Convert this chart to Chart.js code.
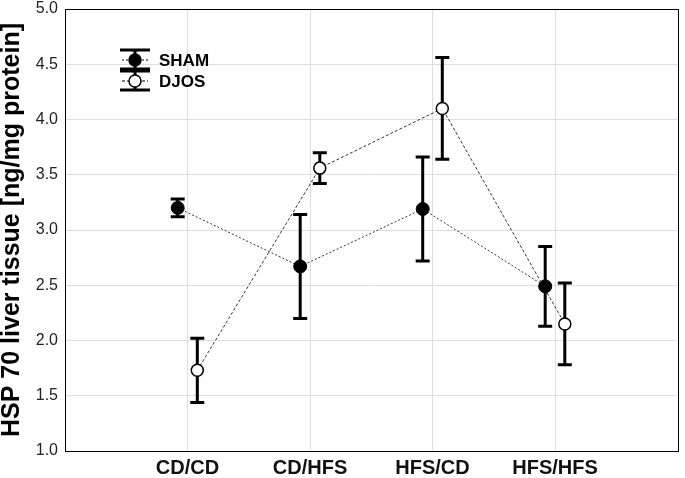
<!DOCTYPE html>
<html>
<head>
<meta charset="utf-8">
<script src="https://cdn.jsdelivr.net/npm/chart.js@4"></script>
<style>
  html, body { margin: 0; padding: 0; background: #fff; }
  #wrap { width: 685px; height: 478px; }
</style>
</head>
<body>
<div id="wrap"><canvas id="hspChart"></canvas></div>
<script>
// Data
const categories = ['CD/CD', 'CD/HFS', 'HFS/CD', 'HFS/HFS'];
const shamMean = [3.20, 2.67, 3.19, 2.49];
const shamErr = [0.08, 0.47, 0.47, 0.36];
const djosMean = [1.73, 3.56, 4.10, 2.15];
const djosErr = [0.29, 0.14, 0.46, 0.37];
const yTicks = [1.0, 1.5, 2.0, 2.5, 3.0, 3.5, 4.0, 4.5, 5.0];

const groupOffset = 0.08;
const FONT = '"Liberation Sans", Arial, sans-serif';

function toPoints(means, errs, shift) {
    return means.map((m, i) => ({ x: i + 1 + shift, y: m, err: errs[i] }));
}

function noPadding(scale) {
    scale.paddingLeft = 0;
    scale.paddingRight = 0;
    scale.paddingTop = 0;
    scale.paddingBottom = 0;
}

// Error bars, drawn under the markers
const errorBars = {
    id: 'errorBars',
    beforeDatasetsDraw(chart) {
        const ctx = chart.ctx;
        const yScale = chart.scales.y;
        const xScale = chart.scales.x;
        ctx.save();
        ctx.strokeStyle = '#000';
        ctx.lineWidth = 3;
        chart.data.datasets.forEach(ds => {
            ds.data.forEach(p => {
                const x = xScale.getPixelForValue(p.x);
                const top = yScale.getPixelForValue(p.y + p.err);
                const bot = yScale.getPixelForValue(p.y - p.err);
                ctx.beginPath();
                ctx.moveTo(x, top); ctx.lineTo(x, bot);
                ctx.moveTo(x - 7, top); ctx.lineTo(x + 7, top);
                ctx.moveTo(x - 7, bot); ctx.lineTo(x + 7, bot);
                ctx.stroke();
            });
        });
        ctx.restore();
    },
    afterDraw(chart) {
        // frame round the plot
        const a = chart.chartArea;
        const ctx = chart.ctx;
        ctx.save();
        ctx.strokeStyle = '#000';
        ctx.lineWidth = 1;
        ctx.strokeRect(Math.round(a.left) + 0.5, Math.round(a.top) + 0.5,
            Math.round(a.right - a.left), Math.round(a.bottom - a.top));
        ctx.restore();
    }
};

// Legend with error bar symbols, top left inside the plot
const boxLegend = {
    id: 'boxLegend',
    afterDraw(chart) {
        const ctx = chart.ctx;
        const cx = 135;
        const rows = [
            { label: 'SHAM', y: 60, fill: '#000', dash: [2, 2] },
            { label: 'DJOS', y: 81, fill: '#fff', dash: [3, 2] }
        ];
        ctx.save();
        rows.forEach(r => {
            ctx.strokeStyle = '#000';
            ctx.lineWidth = 1;
            ctx.setLineDash(r.dash);
            ctx.beginPath();
            ctx.moveTo(cx - 13, r.y); ctx.lineTo(cx + 13, r.y);
            ctx.stroke();
            ctx.setLineDash([]);
            ctx.lineWidth = 3;
            ctx.beginPath();
            ctx.moveTo(cx, r.y - 10); ctx.lineTo(cx, r.y + 10);
            ctx.moveTo(cx - 15, r.y - 10); ctx.lineTo(cx + 15, r.y - 10);
            ctx.moveTo(cx - 15, r.y + 9); ctx.lineTo(cx + 15, r.y + 9);
            ctx.stroke();
            ctx.beginPath();
            ctx.arc(cx, r.y, 6, 0, Math.PI * 2);
            ctx.fillStyle = r.fill;
            ctx.fill();
            ctx.lineWidth = 1.5;
            ctx.stroke();
            ctx.fillStyle = '#000';
            ctx.font = 'bold 17px ' + FONT;
            ctx.textBaseline = 'middle';
            ctx.fillText(r.label, 159, r.y + 1);
        });
        ctx.restore();
    }
};

document.addEventListener('DOMContentLoaded', function() {
    const ctx = document.getElementById('hspChart');
    new Chart(ctx, {
        type: 'scatter',
        data: {
            datasets: [{
                label: 'SHAM',
                data: toPoints(shamMean, shamErr, -groupOffset),
                showLine: true,
                borderColor: '#333',
                borderWidth: 1,
                borderDash: [2, 2],
                pointRadius: 6.5,
                pointBackgroundColor: '#000',
                pointBorderColor: '#000',
                pointBorderWidth: 1
            }, {
                label: 'DJOS',
                data: toPoints(djosMean, djosErr, groupOffset),
                showLine: true,
                borderColor: '#333',
                borderWidth: 1,
                borderDash: [3, 2],
                pointRadius: 6,
                pointBackgroundColor: '#fff',
                pointBorderColor: '#000',
                pointBorderWidth: 1.5
            }]
        },
        options: {
            responsive: true,
            maintainAspectRatio: false,
            animation: false,
            layout: { padding: { top: 9, right: 3, left: 0, bottom: 0 } },
            plugins: {
                legend: { display: false },
                tooltip: { enabled: false }
            },
            scales: {
                x: {
                    type: 'linear',
                    min: 0,
                    max: 5,
                    afterBuildTicks(scale) {
                        scale.ticks = categories.map((c, i) => ({ value: i + 1 }));
                    },
                    afterFit(scale) {
                        scale.height = 27;
                        noPadding(scale);
                    },
                    ticks: {
                        callback: v => categories[v - 1] || '',
                        color: '#111',
                        padding: 5,
                        maxRotation: 0,
                        font: { family: FONT, size: 20, weight: 'bold' }
                    },
                    grid: { color: '#dedede', lineWidth: 1, drawTicks: false },
                    border: { display: false }
                },
                y: {
                    min: 1,
                    max: 5,
                    afterBuildTicks(scale) {
                        scale.ticks = yTicks.map(v => ({ value: v }));
                    },
                    afterFit(scale) {
                        scale.width = 65;
                        noPadding(scale);
                    },
                    ticks: {
                        callback: v => v.toFixed(1),
                        color: '#222',
                        padding: 7,
                        font: { family: FONT, size: 16 }
                    },
                    grid: { color: '#dedede', lineWidth: 1, drawTicks: false },
                    border: { display: false },
                    title: {
                        display: true,
                        text: 'HSP 70 liver tissue [ng/mg protein]',
                        color: '#000',
                        padding: { top: 0, bottom: 0 },
                        font: { family: FONT, size: 25, weight: 'bold', lineHeight: 0.96 }
                    }
                }
            }
        },
        plugins: [errorBars, boxLegend]
    });
});
</script>
</body>
</html>
